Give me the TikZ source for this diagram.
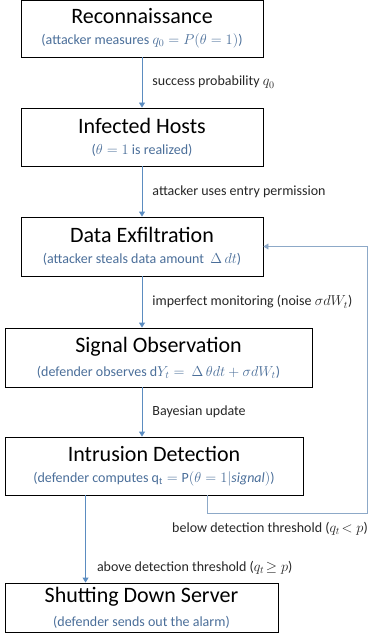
\documentclass[tikz,border=0pt]{standalone}
\usepackage{fontspec}
\setmainfont{Carlito}
\usepackage{amsmath}
\usetikzlibrary{arrows.meta,positioning,calc}
\definecolor{flowblue}{HTML}{5B8CC0}
\definecolor{loopblue}{HTML}{8DA9C8}
\definecolor{subblue}{HTML}{4A6E99}
\newcommand{\stagetext}[2]{{\fontsize{22}{22}\selectfont #1}\\[9pt]{\fontsize{14}{14}\selectfont\color{subblue}#2}}

\begin{document}
\begin{tikzpicture}[x=1pt,y=-1pt,
    stage/.style={draw, line width=0.9pt, align=center, inner sep=2pt},
    flow/.style={draw=flowblue, line width=0.9pt, -{Triangle[width=6pt,length=5pt]}},
    loopflow/.style={draw=loopblue, line width=0.9pt, -{Triangle[width=6pt,length=5pt]}},
    lbl/.style={font=\fontsize{14}{16}\selectfont, text=black!85, inner sep=0pt}]
\useasboundingbox (0,0) rectangle (369,644);

\node[stage, minimum width=242pt, minimum height=57pt] (recon) at (142,28.5)
    {\stagetext{Reconnaissance}{(attacker measures $q_0 = P(\theta = 1)$)}};
\node[stage, minimum width=242pt, minimum height=58pt] (hosts) at (142,137)
    {\stagetext{Infected Hosts}{($\theta = 1$ is realized)}};
\node[stage, minimum width=242pt, minimum height=59pt] (exfil) at (142,246.5)
    {\stagetext{Data Exfiltration}{(attacker steals data amount \ $\Delta\, dt$)}};
\node[stage, minimum width=307pt, minimum height=59pt] (signal) at (158.5,357.5)
    {\stagetext{Signal Observation}{(defender observes d$Y_t =\ \Delta\,\theta dt + \sigma dW_t$)}};
\node[stage, minimum width=298pt, minimum height=58pt] (detect) at (154,466)
    {\stagetext{Intrusion Detection}{(defender computes $\mathrm{q_t} = \mathrm{P}(\theta = 1|\mathit{signal})$)}};
\node[stage, minimum width=273pt, minimum height=49pt] (shutdown) at (141.5,607.5)
    {\stagetext{Shutting Down Server}{(defender sends out the alarm)}};

% main flow
\draw[flow] (recon) -- node[lbl, right=10pt] {success probability $q_0$} (hosts);
\draw[flow] (hosts) -- node[lbl, right=10pt] {attacker uses entry permission} (exfil);
\draw[flow] (exfil.south) -- node[lbl, right=10pt] {imperfect monitoring (noise $\sigma dW_t$)} (exfil.south |- signal.north);
\draw[flow] (exfil.south |- signal.south) -- node[lbl, right=10pt] {Bayesian update} (exfil.south |- detect.north);

% decision
\coordinate (tap) at ([xshift=81pt]detect.south west);
\draw[flow] (tap) -- node[lbl, right=11pt, pos=0.83] {above detection threshold ($q_t\!\geq p$)} (tap |- shutdown.north);

\coordinate (loop) at (367,513);
\draw[loopflow] ([xshift=203pt]detect.south west) |- (loop) |- (exfil.east);
\node[lbl, anchor=north east] (below) at ([xshift=1pt,yshift=-9pt]loop) {below detection threshold ($q_t\!< p$)};
\end{tikzpicture}
\end{document}
